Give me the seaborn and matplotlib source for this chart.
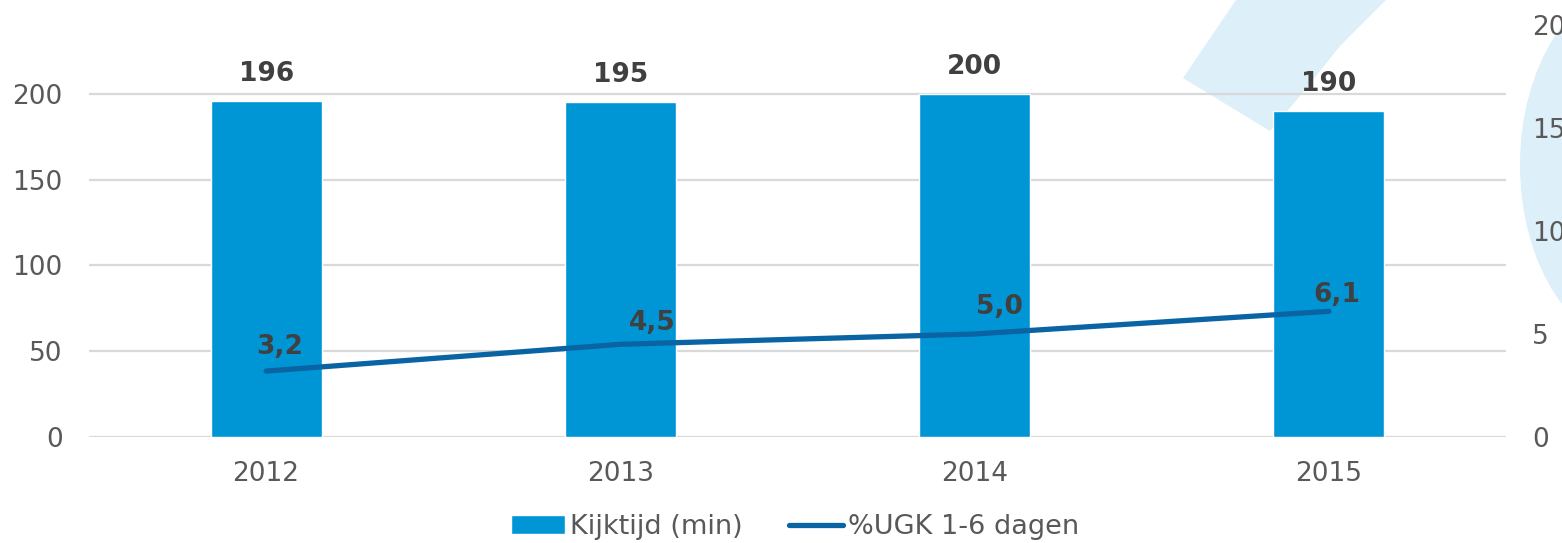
import numpy as np
import pandas as pd
import seaborn as sns
import matplotlib.pyplot as plt
from matplotlib.patches import Polygon, Ellipse

# Chart data
years = ['2012', '2013', '2014', '2015']
kijktijd = [196, 195, 200, 190]
ugk_pct = [3.2, 4.5, 5.0, 6.1]

left_ticks = [0, 50, 100, 150, 200]
right_ticks = [0, 5, 10, 15, 20]

# label offsets for the line values (pixels, right/up)
line_label_offsets = [(13, 24), (32, 21), (25, 27), (8, 16)]

bar_color = '#0096D6'
line_color = '#0A64A4'
tick_color = '#595959'
label_color = '#404040'
grid_color = '#D9D9D9'
wm_color = '#DDEFF8'

sns.set_theme(style='white')
plt.rcParams['font.family'] = ['DejaVu Sans']

W, H = 1562, 543
fig = plt.figure(figsize=(W / 100, H / 100), dpi=100)

# light blue watermark shapes behind the chart
def fx(x):
    return x / W

def fy(y):
    return 1 - y / H

band = Polygon([(fx(1183), fy(78)), (fx(1236), fy(0)), (fx(1386), fy(0)),
                (fx(1340), fy(46)), (fx(1300), fy(96)), (fx(1270), fy(131))],
               closed=True, transform=fig.transFigure, facecolor=wm_color,
               edgecolor='none', zorder=0)
fig.add_artist(band)
ring = Ellipse((fx(1640), fy(165)), 240 / W, 366 / H, transform=fig.transFigure,
               facecolor=wm_color, edgecolor='none', zorder=0)
fig.add_artist(ring)

ax = fig.add_axes([89 / W, 1 - 437 / H, (1506 - 89) / W, (437 - 25) / H])
ax.patch.set_alpha(0)

df = pd.DataFrame({'year': years, 'kijktijd': kijktijd, 'ugk': ugk_pct})

sns.barplot(data=df, x='year', y='kijktijd', color=bar_color, width=0.313,
            saturation=1, ax=ax, label='Kijktijd (min)', zorder=2)
ax.set_ylim(0, 240)
ax.set_xlim(-0.5, len(years) - 0.5)
ax.set_yticks(left_ticks)
ax.yaxis.grid(True, color=grid_color, linewidth=1.6, zorder=0)
ax.set_axisbelow(True)
ax.set_xlabel('')
ax.set_ylabel('')
for s in ax.spines.values():
    s.set_visible(False)
ax.tick_params(axis='both', length=0, labelsize=19, labelcolor=tick_color)
ax.tick_params(axis='x', pad=17)
ax.tick_params(axis='y', pad=19)

for p, v in zip(ax.patches, kijktijd):
    ax.annotate(str(v), (p.get_x() + p.get_width() / 2, p.get_height()),
                xytext=(0, 10), textcoords='offset points', ha='center',
                va='bottom', fontsize=19, fontweight='bold', color=label_color)

ax2 = ax.twinx()
sns.lineplot(data=df, x='year', y='ugk', color=line_color, linewidth=3.8,
             ax=ax2, label='%UGK 1-6 dagen', legend=False,
             solid_capstyle='round')
ax2.set_ylim(0, 20)
ax2.set_yticks(right_ticks)
ax2.set_ylabel('')
ax2.grid(False)
for s in ax2.spines.values():
    s.set_visible(False)
ax2.tick_params(axis='y', length=0, labelsize=19, labelcolor=tick_color, pad=19)

for i, (v, off) in enumerate(zip(ugk_pct, line_label_offsets)):
    ax2.annotate(f'{v:.1f}'.replace('.', ','), (i, v),
                 xytext=(off[0] * 0.72, off[1] * 0.72), textcoords='offset points',
                 ha='center', va='center', fontsize=19, fontweight='bold',
                 color=label_color)

# legend at the bottom
h1, l1 = ax.get_legend_handles_labels()
h2, l2 = ax2.get_legend_handles_labels()
if ax.get_legend() is not None:
    ax.get_legend().remove()
leg = fig.legend(h1 + h2, l1 + l2, loc='center', bbox_to_anchor=(795 / W, 1 - 527 / H),
                 ncol=2, frameon=False, fontsize=19.5, handlelength=2.0,
                 handletextpad=0.2, columnspacing=1.7)
for t in leg.get_texts():
    t.set_color(tick_color)

fig.savefig('out.png', dpi=100)
